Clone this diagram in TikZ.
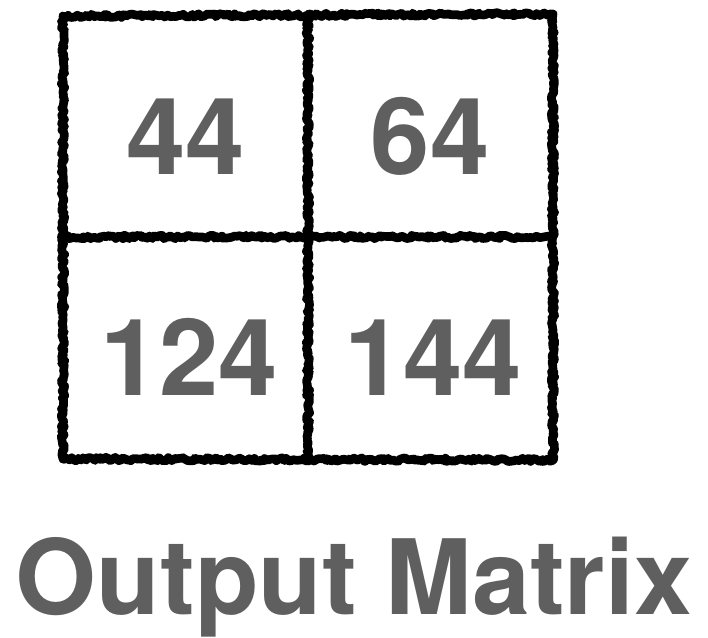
\documentclass[tikz,border=0pt]{standalone}
\usepackage{fontspec}
\setmainfont{TeX Gyre Heros}
\usetikzlibrary{decorations.pathmorphing}
\definecolor{txtgray}{RGB}{95,95,95}
\tikzset{
  rough/.style={draw=black,line width=6.5pt,line cap=round,line join=round,
    decorate,decoration={random steps,segment length=1.6pt,amplitude=1.3pt}},
  num/.style={anchor=base,text=txtgray,font=\fontsize{80}{96}\selectfont\bfseries,inner sep=0pt}
}
\begin{document}
\begin{tikzpicture}[x=0.75pt,y=-0.75pt]
\useasboundingbox (0,0) rectangle (708,637);
\coordinate (tl) at (63,16);
\coordinate (tm) at (308,16);
\coordinate (tr) at (553,14);
\coordinate (ml) at (63,237);
\coordinate (mm) at (308,237);
\coordinate (mr) at (553,237);
\coordinate (bl) at (63,459);
\coordinate (bm) at (308,459);
\coordinate (br) at (553,460);
\draw[rough] (tl) -- (tr);
\draw[rough] (ml) -- (mr);
\draw[rough] (bl) -- (br);
\draw[rough] (tl) -- (bl);
\draw[rough] (tm) -- (bm);
\draw[rough] (tr) -- (br);
\node[num] (a) at (185.5,174) {44};
\node[num] (b) at (430,174) {64};
\node[num] (c) at (189,395) {124};
\node[num] (d) at (433,395) {144};
\node[num,font=\fontsize{78}{94}\selectfont\bfseries] (title) at (354,614) {Output Matrix};
\end{tikzpicture}
\end{document}
